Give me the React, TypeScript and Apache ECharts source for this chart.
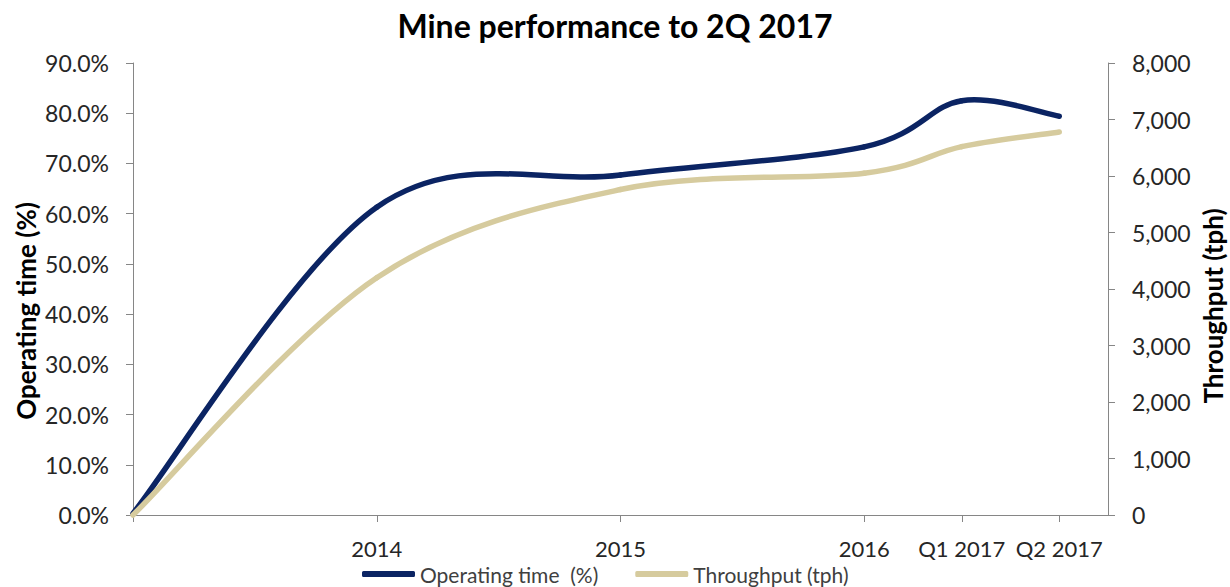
import React, { useEffect, useRef } from "react";
import * as echarts from "echarts";

const xPositions = [0, 1, 2, 3, 3.4, 3.8];
const tickLabels = ["", "2014", "2015", "2016", "Q1 2017", "Q2 2017"];
const operatingTime = [0.3, 61.3, 67.7, 73.3, 82.5, 79.4];
const throughput = [0, 4200, 5760, 6050, 6520, 6780];

const FONT = "Lato";
const AXIS_COLOR = "#868686";
const TEXT_COLOR = "#262626";
const NAVY = "#0B2463";
const BEIGE = "#D6CB9E";

// Excel-style smoothed line: cubic Bezier segments (Catmull-Rom, 1/6 factor),
// points mapped through the chart's own axes with api.coord.
function smoothSeries(
  name: string,
  xs: number[],
  ys: number[],
  yAxisIndex: number,
  color: string,
  z: number
) {
  const n = xs.length;
  const clamp = (k: number) => Math.max(0, Math.min(n - 1, k));
  return {
    name,
    type: "custom",
    coordinateSystem: "cartesian2d",
    yAxisIndex,
    z,
    data: xs.map((x, i) => [x, ys[i]]),
    encode: { x: 0, y: 1 },
    itemStyle: { color },
    renderItem: (params: any, api: any) => {
      const i = params.dataIndex;
      if (i >= n - 1) return null;
      const p = (k: number) => api.coord([xs[clamp(k)], ys[clamp(k)]]);
      const p0 = p(i - 1);
      const p1 = p(i);
      const p2 = p(i + 1);
      const p3 = p(i + 2);
      return {
        type: "bezierCurve",
        shape: {
          x1: p1[0],
          y1: p1[1],
          x2: p2[0],
          y2: p2[1],
          cpx1: p1[0] + (p2[0] - p0[0]) / 6,
          cpy1: p1[1] + (p2[1] - p0[1]) / 6,
          cpx2: p2[0] - (p3[0] - p1[0]) / 6,
          cpy2: p2[1] - (p3[1] - p1[1]) / 6,
        },
        style: { stroke: color, lineWidth: 5.5, fill: "none", lineCap: "round" },
      };
    },
  };
}

export default function App() {
  const ref = useRef<HTMLDivElement>(null);
  useEffect(() => {
    if (!ref.current) return;
    document.body.style.margin = "0";
    const chart = echarts.init(ref.current, undefined, { renderer: "svg" });
    const labelFor = (v: number) => {
      const i = xPositions.findIndex((p) => Math.abs(p - v) < 1e-6);
      return i >= 0 ? tickLabels[i] : "";
    };
    chart.setOption({
      animation: false,
      backgroundColor: "#ffffff",
      title: {
        text: "Mine performance to 2Q 2017",
        left: "center",
        top: 4,
        textStyle: { fontFamily: FONT, fontSize: 32, fontWeight: "bold", color: "#000" },
      },
      grid: { left: 133, right: 122, top: 63, bottom: 72 },
      legend: {
        top: 562,
        left: 362,
        padding: 0,
        itemWidth: 53,
        itemHeight: 6,
        itemGap: 37,
        icon: "roundRect",
        textStyle: { fontFamily: FONT, fontSize: 21, lineHeight: 24, color: "#404040" },
        data: [
          { name: "Operating time  (%)", itemStyle: { color: NAVY } },
          { name: "Throughput (tph)", itemStyle: { color: BEIGE } },
        ],
      },
      graphic: [
        {
          type: "text",
          x: 26,
          y: 311,
          rotation: Math.PI / 2,
          style: {
            text: "Operating time (%)",
            fontFamily: FONT,
            fontSize: 26,
            fontWeight: "bold",
            fill: "#000",
            textAlign: "center",
            textVerticalAlign: "middle",
          },
        },
        {
          type: "text",
          x: 1213,
          y: 306,
          rotation: Math.PI / 2,
          style: {
            text: "Throughput (tph)",
            fontFamily: FONT,
            fontSize: 26,
            fontWeight: "bold",
            fill: "#000",
            textAlign: "center",
            textVerticalAlign: "middle",
          },
        },
      ],
      xAxis: {
        type: "value",
        min: 0,
        max: 4,
        splitLine: { show: false },
        axisLine: { lineStyle: { color: AXIS_COLOR, width: 1 } },
        axisTick: {
          show: true,
          length: 7,
          customValues: xPositions,
          lineStyle: { color: AXIS_COLOR },
        },
        axisLabel: {
          customValues: xPositions.slice(1),
          formatter: (v: number) => labelFor(v),
          fontFamily: FONT,
          fontSize: 22,
          color: TEXT_COLOR,
          margin: 22,
        },
      },
      yAxis: [
        {
          type: "value",
          min: 0,
          max: 90,
          interval: 10,
          position: "left",
          splitLine: { show: false },
          axisLine: { show: true, lineStyle: { color: AXIS_COLOR } },
          axisTick: { show: true, length: 7, lineStyle: { color: AXIS_COLOR } },
          axisLabel: {
            formatter: (v: number) => v.toFixed(1) + "%",
            fontFamily: FONT,
            fontSize: 23,
            color: TEXT_COLOR,
            margin: 24,
          },
        },
        {
          type: "value",
          min: 0,
          max: 8000,
          interval: 1000,
          position: "right",
          splitLine: { show: false },
          axisLine: { show: true, lineStyle: { color: AXIS_COLOR } },
          axisTick: { show: true, length: 7, lineStyle: { color: AXIS_COLOR } },
          axisLabel: {
            formatter: (v: number) => v.toLocaleString("en-US"),
            fontFamily: FONT,
            fontSize: 23,
            color: TEXT_COLOR,
            margin: 24,
          },
        },
      ],
      series: [
        smoothSeries("Operating time  (%)", xPositions, operatingTime, 0, NAVY, 2),
        smoothSeries("Throughput (tph)", xPositions, throughput, 1, BEIGE, 3),
      ],
    });
    return () => chart.dispose();
  }, []);
  return <div ref={ref} style={{ width: 1230, height: 587 }} />;
}
